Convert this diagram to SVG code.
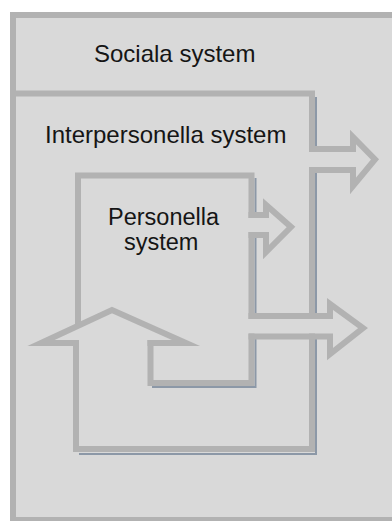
<svg xmlns="http://www.w3.org/2000/svg" width="392" height="521" viewBox="0 0 392 521">
<style>
.ln{fill:none;stroke:#b2b2b2;stroke-width:6;stroke-linecap:square;stroke-linejoin:miter;stroke-miterlimit:10}
.sh{fill:none;stroke:#8c98a7;stroke-width:2}
.t{font-family:"Liberation Sans",Arial,sans-serif;fill:#151515}
</style>
<rect width="392" height="521" fill="#ffffff"/>
<g id="sociala">
<rect x="13" y="15" width="400" height="505" fill="#d9d9d9" stroke="#b2b2b2" stroke-width="6"/>
<text class="t" x="94" y="62" font-size="24">Sociala system</text>
</g>
<g id="interpersonella">
<path class="sh" d="M316,97 V146 M316,173 V313 M316,339 V454 H79"/>
<path class="ln" d="M13,93.5 H312 V149 M312,170 V316 M312,336.5 V449 H76 V343"/>
<text class="t" x="45" y="143" font-size="24">Interpersonella system</text>
</g>
<g id="personella">
<path class="sh" d="M255.5,178 V212 M255.5,238 V313 M255.5,339 V387 H152"/>
<path class="ln" d="M78,324 V175.5 H251.5 V215 M251.5,235 V316 M251.5,336.5 V383 H150.5 V343"/>
<text class="t" x="108" y="225" font-size="23.5">Personella</text>
<text class="t" x="124" y="250" font-size="23.5">system</text>
</g>
<g id="connectors">
<path class="ln" d="M312,149 H353 V137 L375,159.5 L353,186 V170 H312"/>
<path class="ln" d="M251.5,215 H266 V205 L291,227 L266,252 V235 H251.5"/>
<path class="ln" d="M251.5,316 H330 V304 L363,328 L330,354 V336.5 H251.5"/>
<path class="ln" d="M76,343 H41 L112,310 L186,343 H150.5"/>
</g>
</svg>
